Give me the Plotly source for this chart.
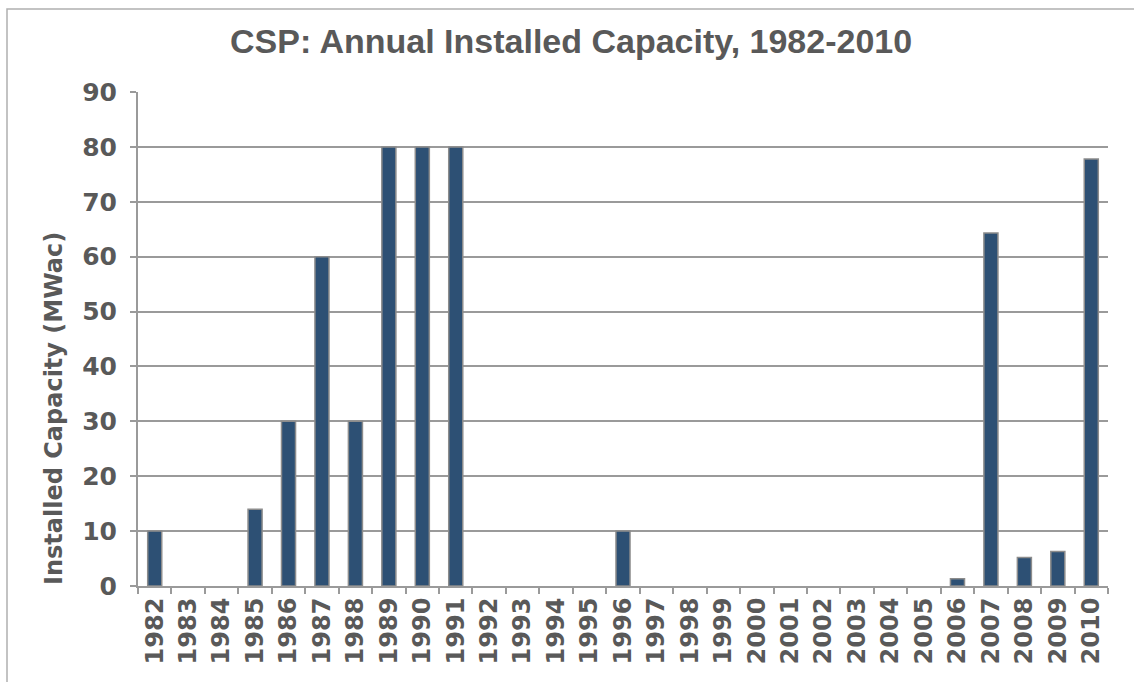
import plotly.graph_objects as go

# Annual installed CSP capacity (MWac), 1982-2010
years = [str(y) for y in range(1982, 2011)]
capacity = [10, 0, 0, 14, 30, 60, 30, 80, 80, 80,
            0, 0, 0, 0, 10, 0, 0, 0, 0, 0,
            0, 0, 0, 0, 1.3, 64.3, 5.2, 6.3, 77.8]
y_ticks = list(range(0, 100, 10))

title_text = "CSP: Annual Installed Capacity, 1982-2010"
y_title = "Installed Capacity (MWac)"

text_color = "#595959"
grid_color = "#9a9a9a"
bar_fill = "#2d5074"
bar_edge = "#8c8c8c"
tick_family = "DejaVu Sans, Verdana, sans-serif"

# years without installations get no bar (avoids outlined zero-height stubs)
bar_values = [v if v > 0 else None for v in capacity]

fig = go.Figure(
    go.Bar(
        x=years,
        y=bar_values,
        marker=dict(color=bar_fill, line=dict(color=bar_edge, width=1.5)),
    )
)

W, H = 1134, 682
L, R, T, B = 138, 26, 92, 96
pw, ph = W - L - R, H - T - B


def px_x(x):
    return (x - L) / pw


def px_y(y):
    return (T + ph - y) / ph


fig.update_layout(
    width=W,
    height=H,
    margin=dict(l=L, r=R, t=T, b=B),
    paper_bgcolor="white",
    plot_bgcolor="white",
    bargap=0.58,
    showlegend=False,
    font=dict(family=tick_family, color=text_color),
    xaxis=dict(
        type="category",
        tickson="boundaries",
        ticks="outside",
        ticklen=6,
        tickcolor=grid_color,
        tickwidth=1.5,
        tickangle=-90,
        tickfont=dict(size=24, family=tick_family, weight="bold", color=text_color),
        showline=True,
        linecolor=grid_color,
        linewidth=2,
        showgrid=False,
        automargin=False,
    ),
    yaxis=dict(
        range=[0, 90],
        tickvals=y_ticks,
        ticks="outside",
        ticklen=6,
        tickcolor=grid_color,
        tickwidth=1.5,
        tickfont=dict(size=25, family=tick_family, weight="bold", color=text_color),
        showline=True,
        linecolor=grid_color,
        linewidth=2,
        showgrid=True,
        gridcolor=grid_color,
        gridwidth=2,
        zeroline=False,
        ticklabelstandoff=8,
        automargin=False,
    ),
    annotations=[
        dict(
            text=title_text,
            xref="paper", yref="paper",
            x=px_x(571), y=px_y(41),
            xanchor="center", yanchor="middle",
            showarrow=False,
            font=dict(size=34, weight="bold", color=text_color,
                      family="Liberation Sans, Arial, sans-serif"),
        ),
        dict(
            text=y_title,
            xref="paper", yref="paper",
            x=px_x(54), y=px_y(409),
            xanchor="center", yanchor="middle",
            textangle=-90,
            showarrow=False,
            font=dict(size=24, weight="bold", color=text_color, family=tick_family),
        ),
    ],
    shapes=[
        # outer frame of the chart area
        dict(
            type="rect",
            xref="paper", yref="paper",
            x0=px_x(7), x1=px_x(W + 10),
            y0=px_y(H + 10), y1=px_y(9),
            line=dict(color="#b0b0b0", width=1.5),
            fillcolor="rgba(0,0,0,0)",
            layer="below",
        )
    ],
)

fig.write_html("out.html")
